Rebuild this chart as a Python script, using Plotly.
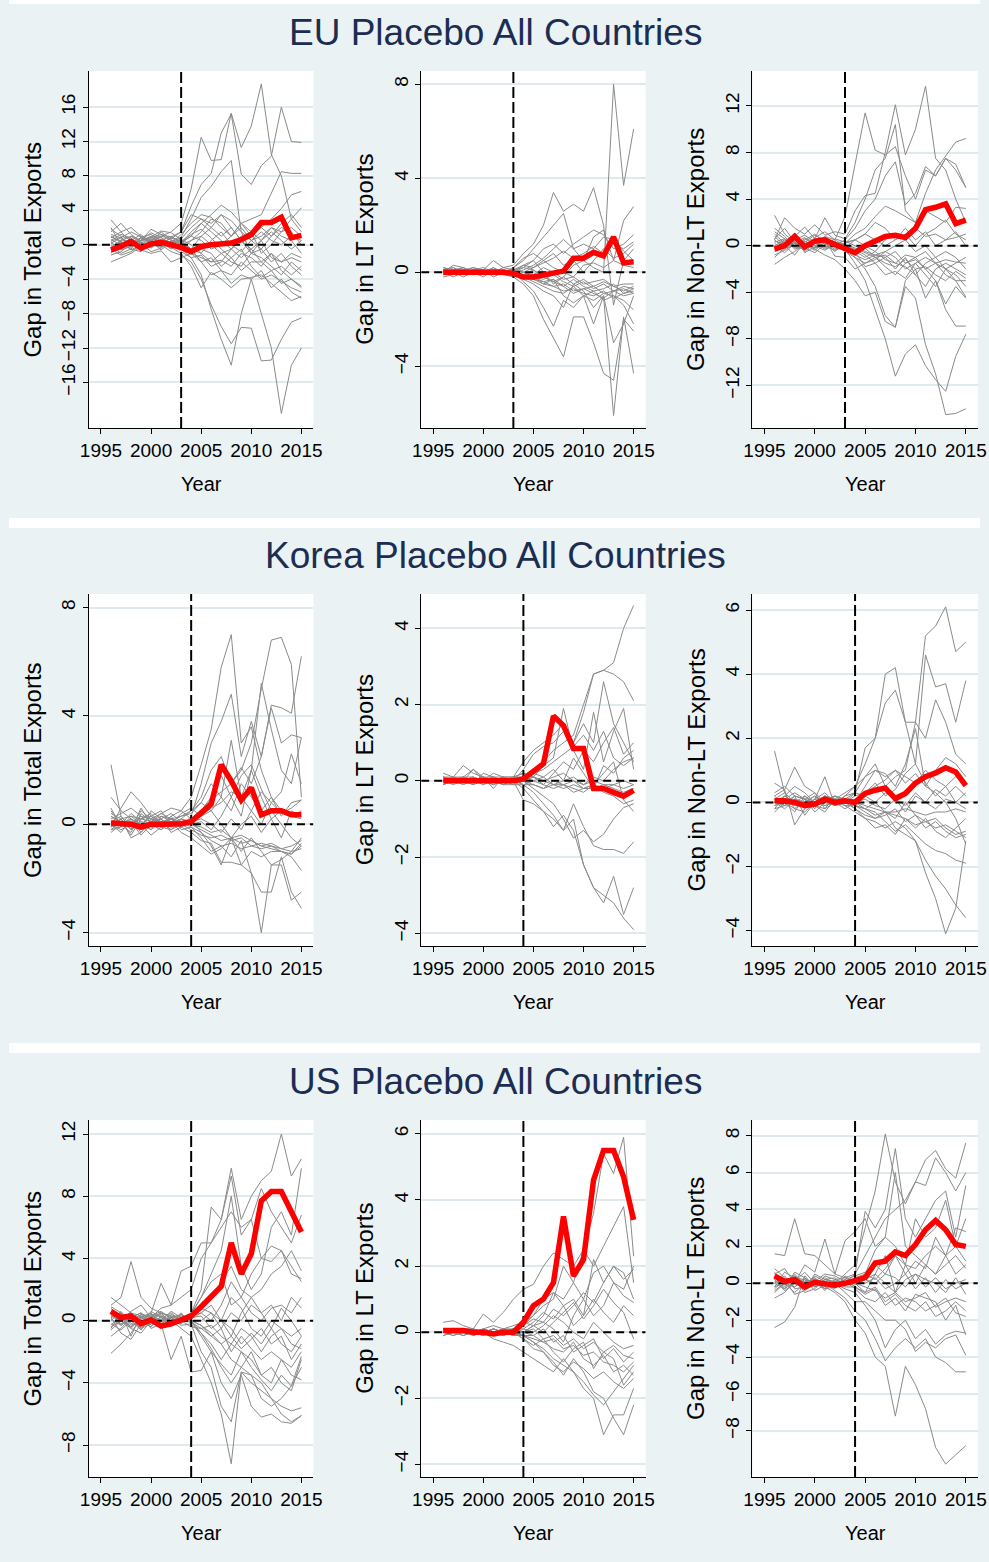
import plotly.graph_objects as go

# ---------------- data ----------------
years = list(range(1996, 2016))
x_tick_years = [1995, 2000, 2005, 2010, 2015]

panel_titles = ["EU Placebo All Countries", "Korea Placebo All Countries", "US Placebo All Countries"]
panel_treat_years = [2003, 2004, 2004]
y_titles = ["Gap in Total Exports", "Gap in LT Exports", "Gap in Non-LT Exports"]
x_title = "Year"

# ---- EU ----
eu_total_treated = [-0.6, -0.2, 0.4, -0.4, 0.1, 0.3, 0.0, -0.3, -0.8, -0.2, 0.0, 0.1, 0.2, 0.6, 1.2, 2.6, 2.6, 3.2, 0.8, 1.1]
eu_total_placebos = [
    [0.5, 1.2, 0.8, -0.3, 0.6, 1.0, 1.5, 2.5, 6.5, 12.5, 9.8, 9.9, 15.3, 11.3, 13.8, 18.7, 10.5, 8.0, 3.0, 1.5],
    [0.2, -0.5, 1.0, 0.5, 1.8, 1.2, 0.9, 1.5, 4.5, 7.0, 8.3, 13.0, 15.2, 8.2, 7.0, 9.2, 10.3, 16.0, 12.0, 11.9],
    [1.0, 0.3, -0.2, 0.8, 0.4, -0.6, 0.3, 0.9, 3.0, 5.5, 6.8, 8.5, 9.8, 1.5, -1.0, 0.5, 2.0, 1.0, 0.5, -1.0],
    [-0.5, 0.2, 0.6, 0.3, -0.4, 0.5, 0.2, 1.2, 2.5, 3.5, 3.2, 2.0, 1.0, 2.5, 3.0, 3.5, 6.0, 8.5, 8.3, 8.3],
    [0.8, 1.5, 2.0, 1.0, 0.5, 0.2, 0.8, 0.3, 1.0, 2.5, 3.5, 4.6, 3.8, 2.5, 1.5, 2.0, 3.0, 4.2, 5.8, 6.2],
    [2.9, 1.5, 0.3, -0.5, 0.4, 1.5, 0.6, 0.0, -0.5, 1.0, 2.0, 3.5, 2.8, 1.5, 0.5, 1.0, 2.0, 1.5, 3.0, 4.3],
    [-2.0, -1.5, -1.0, -0.2, 0.3, 0.0, -0.8, -1.2, -2.0, -4.0, -7.0, -9.5, -11.5, -9.6, -9.7, -13.5, -13.4, -11.0, -9.0, -8.5],
    [0.3, -0.6, -0.2, 0.2, -0.8, -0.4, 0.5, -0.5, -1.5, -3.5, -7.5, -11.0, -14.0, -8.0, -4.0, -8.0, -12.0, -19.6, -14.0, -12.0],
    [1.2, 0.8, 0.2, 0.5, 1.0, 0.6, -0.3, -1.0, -2.5, -5.0, -3.2, -4.0, -5.0, -4.0, -3.8, -3.5, -4.5, -5.5, -6.5, -6.0],
    [-0.8, -0.3, 0.4, -0.6, -1.0, -0.7, -2.0, -1.5, -1.0, -2.0, -1.5, -3.0, -3.5, -2.0, -3.0, -4.0, -3.5, -4.2, -5.0, -5.5],
    [0.6, 0.0, -0.5, 0.9, 1.2, 0.4, 0.1, 0.5, -0.5, -1.0, -2.0, -1.8, -2.5, -1.0, -1.5, -2.5, -1.0, -3.0, -4.0, -4.8],
    [-0.3, 0.5, 1.0, 0.2, -0.2, 0.3, -0.5, 0.2, 1.5, 2.5, 1.5, 0.5, -0.5, -1.5, -0.5, 0.5, -1.5, -2.0, -1.0, -1.5],
    [1.5, 2.5, 1.2, 0.4, 0.9, 1.6, 1.4, 0.6, 0.0, -1.0, 0.5, 1.5, 0.0, -0.8, 0.5, -0.5, -2.0, -1.0, -2.5, -3.5],
    [0.0, -1.0, -0.5, -0.8, 0.2, -0.2, 0.4, -0.8, -1.5, -1.2, -2.5, -2.0, -0.5, 1.0, 1.5, -1.0, 0.0, 1.5, 2.0, 1.0],
    [-1.0, 0.6, 0.3, 0.8, 0.1, 1.0, 0.7, 1.5, 3.5, 3.0, 2.0, 1.0, 2.0, 0.5, -0.5, -2.0, -3.0, -2.5, -3.5, -2.5],
    [0.4, 0.9, -0.6, 0.0, 0.7, 0.4, 0.3, -0.2, -1.0, -0.5, -1.0, -2.5, -1.5, -3.0, -2.0, -2.0, -1.0, -2.0, -1.5, -2.0],
    [2.0, 0.0, 0.5, 1.2, 0.0, -0.3, 0.9, 0.4, 1.2, 1.8, 0.8, -0.5, -1.5, -0.5, -2.5, -3.8, -3.0, -4.5, -4.0, -5.0],
    [-1.2, -0.8, 0.1, -0.2, 0.5, 0.9, -0.2, -0.6, 0.5, 1.5, 3.0, 2.5, 1.0, 2.0, 0.5, 1.5, 0.5, 0.0, 1.0, 0.5],
    [0.9, 0.4, -0.3, 0.6, 1.4, 0.8, 0.2, 0.7, 2.0, 3.0, 2.5, 3.5, 2.0, 0.5, -1.0, -0.5, 1.0, 2.0, 1.5, 0.0],
    [-0.5, -1.2, -0.8, 0.0, -0.3, 0.5, 1.0, 0.3, -0.5, -2.0, -3.5, -3.0, -4.5, -3.5, -4.0, -3.0, -5.0, -4.0, -5.5, -6.2],
    [1.8, 1.0, 0.6, 0.2, 0.8, 1.2, 0.5, 0.2, 1.0, 0.5, -0.5, 0.0, 1.0, 2.5, 1.0, 2.0, 1.0, 2.5, 3.5, 2.0],
    [0.2, 0.8, 1.5, 0.9, 0.3, -0.2, 0.0, -0.3, -1.0, -1.5, -2.0, -1.0, -2.0, -2.5, -1.0, -1.5, -2.5, -3.5, -2.0, -3.0],
    [-0.6, 0.3, 0.0, 0.5, 0.9, 0.2, -0.4, 0.0, 0.5, 1.0, 0.0, -1.0, -0.5, 0.5, 1.5, 0.5, 1.5, 0.5, -0.5, 0.5],
]

eu_lt_treated = [0.0, 0.0, 0.05, 0.0, 0.0, 0.0, 0.0, -0.05, -0.2, -0.2, -0.1, 0.0, 0.05, 0.6, 0.6, 0.85, 0.7, 1.5, 0.4, 0.45]
eu_lt_placebos = [
    [0.1, 0.2, 0.0, -0.1, 0.1, -0.1, 0.0, 0.1, 0.2, 0.5, 0.0, -0.5, -0.2, 0.3, 0.5, 0.2, 0.0, 8.0, 3.7, 6.1],
    [-0.1, 0.0, 0.1, 0.0, -0.2, 0.1, 0.1, 0.0, -0.3, -0.5, -0.8, -1.0, -1.5, -0.5, -0.8, -1.5, -1.0, -6.1, -1.9, -4.3],
    [0.0, 0.3, 0.2, 0.0, 0.1, 0.5, 0.2, 0.3, 0.8, 1.2, 2.0, 3.4, 2.6, 2.9, 2.6, 3.6, 2.0, -1.4, 0.5, 1.0],
    [0.2, 0.1, -0.1, 0.1, 0.0, 0.2, -0.1, -0.2, -0.5, -1.0, -2.0, -2.8, -3.6, -1.9, -1.9, -3.0, -4.3, -4.6, -2.0, -2.5],
    [-0.2, -0.1, 0.0, 0.1, 0.2, 0.0, 0.1, 0.0, -0.4, -0.8, -1.5, -2.3, -1.2, -1.5, -1.0, -2.2, -1.0, -3.0, -2.2, -1.0],
    [0.1, 0.0, 0.2, -0.1, 0.0, 0.1, 0.0, 0.2, 0.5, 1.0, 1.5, 2.0, 2.5, 1.0, 0.5, 1.5, 1.8, 0.5, 2.2, 2.8],
    [0.0, -0.1, 0.1, 0.2, 0.1, -0.2, 0.0, 0.1, 0.3, 0.5, 1.0, 1.2, 0.8, 1.2, 1.5, 1.8, 1.6, 1.0, 1.2, 1.6],
    [0.1, 0.2, 0.0, 0.0, -0.1, 0.0, 0.2, 0.1, 0.0, -0.2, -0.5, -0.3, -1.0, -1.3, -1.0, -0.8, -1.2, -1.0, -1.2, -1.6],
    [-0.1, 0.1, 0.0, 0.2, 0.0, 0.1, -0.1, 0.0, 0.3, 0.2, 0.5, 0.8, 0.3, 0.5, 0.0, 0.5, 1.0, 0.6, 0.8, 1.2],
    [0.0, 0.0, -0.1, 0.0, 0.1, 0.0, 0.1, -0.1, -0.2, -0.3, -0.4, -0.6, -0.5, -0.8, -0.7, -0.6, -0.9, -0.8, -0.7, -0.9],
    [0.1, -0.1, 0.0, 0.1, -0.1, 0.2, 0.0, 0.1, 0.0, -0.1, 0.2, 0.0, -0.3, -0.2, -0.5, -0.4, -0.3, -0.6, -0.5, -0.5],
    [-0.1, 0.0, 0.1, -0.1, 0.0, -0.1, 0.1, 0.0, -0.1, 0.1, -0.2, -0.4, -0.6, -0.3, -0.6, -0.8, -0.7, -0.5, -0.9, -0.8],
    [0.0, 0.1, 0.0, 0.0, 0.1, 0.0, -0.1, 0.2, 0.6, 0.8, 0.5, 0.2, 0.0, -0.2, 0.3, 0.4, 0.2, 0.5, 0.3, 0.2],
    [0.2, 0.0, -0.2, 0.0, 0.1, 0.0, 0.0, 0.0, -0.2, -0.4, -0.6, -0.8, -0.9, -0.6, -1.0, -1.2, -0.9, -1.0, -1.4, -2.2],
    [-0.1, 0.1, 0.2, 0.0, 0.0, 0.1, -0.1, 0.0, 0.1, 0.3, 0.6, 1.0, 1.4, 1.0, 1.2, 1.0, 1.5, 1.4, 0.9, 0.5],
    [0.0, -0.2, 0.0, 0.1, 0.0, -0.1, 0.0, -0.1, -0.1, -0.2, -0.3, -0.1, -0.4, -0.6, -0.4, -0.7, -0.5, -0.8, -0.6, -0.7],
    [0.0, 0.1, 0.1, 0.0, 0.0, 0.1, 0.0, 0.1, -0.1, -0.3, -0.5, -0.6, -0.8, -0.7, -0.9, -1.0, -0.8, -1.1, -0.9, -0.7],
    [0.1, 0.0, 0.0, 0.1, 0.1, 0.0, 0.1, 0.0, 0.2, 0.1, -0.2, -0.4, -0.2, -0.5, -0.3, -0.6, -0.4, -0.6, -0.8, -0.6],
    [-0.1, 0.0, 0.0, 0.1, -0.1, 0.0, 0.0, 0.1, 0.0, 0.2, 0.4, 0.6, 0.9, 0.6, 0.8, 1.1, 0.8, 1.2, 1.0, 1.3],
    [0.0, 0.1, -0.1, 0.0, 0.0, 0.1, 0.0, 0.0, -0.2, -0.2, -0.4, -0.3, -0.6, -0.9, -0.7, -0.9, -1.1, -0.8, -1.0, -0.9],
]

eu_nonlt_treated = [-0.3, 0.0, 0.8, -0.1, 0.4, 0.5, 0.1, -0.3, -0.6, 0.0, 0.4, 0.8, 0.9, 0.7, 1.5, 3.1, 3.3, 3.6, 1.9, 2.2]
eu_nonlt_placebos = [
    [2.6, 1.0, 0.3, -0.5, 0.2, 0.8, 0.5, 2.5, 7.0, 11.4, 8.2, 7.8, 8.5, 6.0, 4.0, 6.5, 6.0, 7.5, 6.5, 5.0],
    [0.5, 2.4, 1.5, 1.0, 1.8, 0.9, 1.2, 1.0, 3.0, 4.3, 4.5, 8.0, 12.1, 7.8, 10.0, 13.7, 7.5, 6.5, 4.0, 2.0],
    [-0.5, 0.0, 0.8, 1.6, 0.6, 2.4, 0.9, 0.6, 2.0, 4.0, 6.5, 7.5, 10.4, 3.0, 2.0, 4.5, 6.5, 7.7, 8.9, 9.2],
    [0.2, -0.3, 0.5, 0.1, -0.4, 0.3, 0.0, 0.5, 1.5, 3.0, 4.0, 6.0, 7.2, 3.5, 4.5, 6.8, 6.0, 7.5, 7.0, 5.0],
    [1.5, 0.8, -0.2, 0.5, 1.0, 0.2, -0.5, 0.2, 1.0, 1.5, 2.5, 3.4, 3.0, 2.5, 2.0, 3.0, 2.5, 2.0, 3.3, 3.2],
    [-1.6, -1.0, -0.5, 0.2, -0.3, -0.8, -1.2, -2.0, -3.0, -4.3, -4.0, -6.5, -7.0, -3.0, -2.0, -4.5, -3.0, -5.0, -3.5, -4.5],
    [0.8, 0.0, -0.8, 0.3, 0.9, 0.5, -0.2, -0.3, -1.5, -3.0, -5.5, -8.0, -11.2, -9.3, -8.5, -10.3, -11.5, -12.5, -9.5, -7.6],
    [-0.8, -0.4, 0.2, -0.2, -0.6, 0.1, 0.4, -0.5, -1.0, -2.0, -3.5, -6.0, -7.0, -3.5, -4.5, -8.5, -11.0, -14.5, -14.4, -14.0],
    [0.3, 0.6, -0.3, 0.0, 0.4, -0.2, 0.2, 0.1, -0.5, -1.0, -0.5, -1.2, -1.5, -0.8, -1.0, -2.0, -3.0, -5.5, -6.9, -6.9],
    [-0.2, 0.4, 1.0, -0.6, -0.1, 0.5, -0.9, -1.0, -2.0, -1.5, -1.0, -1.8, -2.5, -1.5, -1.2, -2.0, -1.5, -2.5, -3.0, -4.4],
    [1.0, 0.2, 0.5, 0.9, 0.3, 0.0, 0.6, 0.3, 0.5, 0.0, -0.5, 0.5, 1.0, 0.5, 1.5, 0.8, 1.0, 0.5, 0.7, 1.0],
    [0.0, -0.6, 0.2, 0.4, 0.0, -0.4, 0.2, -0.2, -1.0, -1.5, -1.2, -0.5, -1.0, -2.0, -1.5, -1.0, -1.5, -1.2, -1.4, -1.5],
    [-0.4, 0.3, -0.1, -0.3, 0.5, 0.2, -0.3, 0.0, -0.3, -0.8, -1.5, -2.5, -2.2, -2.8, -1.5, -2.5, -3.5, -2.0, -2.5, -3.5],
    [0.4, 0.1, 0.6, 0.2, -0.2, 0.3, 0.1, 0.2, 0.5, 1.0, 2.0, 1.5, 0.5, 1.0, 0.0, 1.0, 1.5, 2.2, 1.0, 0.5],
    [-1.0, -0.2, 0.0, 0.6, 0.2, -0.1, 0.0, -0.4, -0.8, -1.2, -0.8, -0.5, 0.0, 0.5, -0.5, 0.0, -1.0, -0.5, -1.0, -2.0],
    [0.6, 1.5, 0.3, -0.4, 0.7, 1.2, 0.5, 0.0, -0.5, -1.8, -1.5, -1.0, -2.0, -1.0, -2.5, -3.5, -2.0, -1.5, -2.0, -2.5],
    [0.5, -0.2, 0.3, 0.7, 0.0, 0.4, 0.2, 0.4, 0.0, -0.5, -0.8, -1.0, -0.5, -1.5, -1.0, -0.5, -1.5, -2.0, -1.5, -1.0],
    [-0.3, 0.2, 0.6, 0.0, 0.3, -0.3, 0.0, 0.1, -0.2, -0.6, -1.0, -1.5, -1.8, -1.2, -2.0, -1.8, -2.5, -3.0, -2.2, -2.8],
    [0.0, 0.5, 0.2, -0.2, 0.5, 0.6, 0.3, -0.2, 0.5, 1.0, 0.5, 0.0, 0.5, 1.5, 0.5, 1.2, 0.0, 0.5, 1.2, 0.0],
    [1.2, 0.6, 0.0, 0.4, -0.2, 0.0, -0.4, 0.0, -0.5, -0.2, -1.0, -0.8, -1.5, -1.8, -2.5, -1.5, -1.0, -2.0, -3.0, -3.0],
]

# ---- Korea ----
korea_total_treated = [0.05, 0.05, 0.0, -0.1, 0.0, 0.0, 0.0, 0.02, 0.1, 0.45, 0.75, 2.2, 1.6, 0.9, 1.35, 0.35, 0.5, 0.5, 0.35, 0.35]
korea_total_placebos = [
    [0.6, -0.1, 0.3, 0.2, 0.4, 0.0, 0.3, 0.5, 1.0, 2.2, 3.5, 5.8, 7.0, 3.0, 3.6, 2.0, 1.0, 0.5, 0.3, 0.5],
    [-0.2, 0.1, -0.4, 0.2, 0.3, 0.5, 0.0, 0.2, 0.5, 1.0, 2.0, 2.5, 1.5, 2.0, 3.0, 5.0, 6.8, 6.9, 5.9, 1.0],
    [1.0, 0.5, 0.2, -0.3, 0.1, 0.4, 0.2, -0.1, 0.3, 1.5, 3.0, 3.8, 4.8, 2.5, 3.8, 2.5, 4.4, 4.3, 4.1, 6.2],
    [2.2, 0.3, -0.2, 0.6, 0.0, -0.2, 0.1, 0.3, 0.4, 0.8, 1.5, 1.0, 3.1, 1.0, 2.0, 5.2, 3.5, 2.0, 1.5, 3.2],
    [-0.1, 0.6, 1.2, 0.8, 0.3, 0.1, -0.2, 0.0, 0.2, 0.5, 0.9, 1.2, 1.5, 2.1, 1.5, 2.5, 4.3, 3.0, 3.3, 3.2],
    [0.4, 0.2, -0.5, -0.3, 0.2, 0.4, 0.6, 0.5, 0.2, -0.3, -0.8, -1.5, -0.5, -1.5, -1.8, -4.0, -1.5, -1.5, -2.8, -2.5],
    [0.0, -0.3, 0.2, 0.0, -0.4, -0.1, 0.3, -0.2, -0.1, -0.5, -1.0, -0.8, -1.2, -0.6, -1.8, -2.5, -2.5, -1.2, -2.5, -3.1],
    [0.3, 0.1, 0.0, -0.2, 0.5, 0.2, -0.1, 0.1, 0.0, -0.2, -0.4, -0.6, -0.5, -0.7, -0.6, -0.8, -0.9, -1.0, -1.1, -0.7],
    [-0.3, 0.0, 0.4, 0.1, -0.2, 0.3, 0.2, 0.0, -0.2, -0.4, -0.5, -0.4, -0.6, -0.5, -0.8, -0.7, -0.8, -0.9, -0.8, -0.6],
    [0.1, 0.3, -0.1, 0.5, 0.2, -0.1, 0.0, 0.4, 0.6, 0.3, 0.5, 1.0, 0.5, 1.5, 1.0, 0.5, 1.0, 0.3, 0.8, 0.9],
    [-0.2, -0.1, 0.1, -0.4, 0.0, 0.2, -0.3, -0.1, -0.3, -0.6, -0.7, -1.4, -1.4, -1.5, -1.0, -1.2, -1.0, -1.0, -1.2, -1.7],
    [0.2, 0.4, 0.6, 0.3, -0.1, 0.0, 0.2, 0.3, 0.5, 0.8, 0.5, 0.0, -0.5, 0.0, 0.3, -0.3, 0.2, 0.5, 0.3, 0.2],
    [0.0, -0.2, 0.0, 0.2, 0.1, 0.3, 0.1, -0.3, -0.5, -0.8, -1.1, -0.9, -0.5, -1.0, -0.5, -1.0, -1.5, -1.3, -1.0, -0.5],
    [-0.1, 0.2, 0.3, 0.0, 0.3, -0.1, -0.2, 0.2, 0.1, 0.2, 0.0, -0.3, 0.2, -0.2, 0.5, 0.0, 0.8, 1.2, 2.6, 1.5],
    [0.5, 0.0, -0.3, 0.4, 0.1, 0.2, 0.4, 0.1, 0.0, 0.1, -0.2, 0.3, 1.0, 1.8, 2.2, 1.3, 0.5, 0.0, -0.5, -0.8],
    [0.1, 0.0, 0.2, -0.1, 0.1, 0.0, -0.1, 0.2, 0.0, -0.1, -0.3, -0.2, -0.5, -0.4, -0.6, -0.8, -0.7, -0.9, -1.0, -0.9],
    [-0.1, 0.1, 0.0, 0.3, 0.2, 0.1, 0.0, -0.1, 0.1, 0.3, 0.6, 0.8, 1.2, 1.0, 0.5, 1.2, 0.8, 0.4, 0.6, 0.9],
    [0.3, 0.0, 0.1, 0.0, -0.2, 0.1, 0.2, 0.1, -0.1, -0.3, -0.6, -0.8, -0.7, -0.9, -0.8, -0.9, -0.8, -1.0, -1.1, -0.8],
    [0.0, 0.2, -0.2, 0.1, 0.0, -0.2, 0.1, 0.0, 0.2, 0.5, 1.0, 1.8, 1.0, 0.3, 2.0, 1.0, 0.2, -0.5, 0.5, 0.3],
]

korea_lt_treated = [0.0, 0.0, 0.0, 0.0, -0.02, 0.0, 0.0, 0.0, 0.05, 0.25, 0.45, 1.7, 1.45, 0.85, 0.85, -0.2, -0.2, -0.3, -0.4, -0.25]
korea_lt_placebos = [
    [0.1, 0.05, 0.1, 0.0, -0.1, 0.1, 0.0, 0.0, 0.1, 0.3, 0.5, 0.8, 1.0, 1.2, 2.0, 2.8, 2.9, 3.1, 4.0, 4.6],
    [0.0, -0.05, 0.0, 0.1, 0.0, -0.1, 0.0, 0.0, -0.2, -0.5, -0.8, -1.0, -1.3, -1.0, -2.2, -2.8, -3.0, -3.2, -3.6, -3.9],
    [-0.1, 0.0, 0.1, 0.3, 0.1, 0.0, 0.1, 0.0, -0.5, -0.6, -0.8, -1.2, -0.9, -1.3, -2.2, -2.8, -3.2, -2.5, -3.5, -2.8],
    [0.2, 0.1, 0.4, 0.2, 0.1, 0.0, -0.1, -0.1, -0.1, -0.3, -0.6, -0.9, -1.3, -0.6, -1.2, -1.7, -1.8, -1.8, -1.9, -1.6],
    [0.0, 0.1, 0.0, 0.3, 0.0, 0.2, 0.1, 0.0, 0.3, 0.7, 0.9, 1.0, 1.3, 1.0, 1.8, 2.8, 2.9, 2.8, 2.6, 2.1],
    [0.1, 0.0, -0.1, 0.0, 0.1, -0.2, 0.1, 0.1, 0.5, 0.8, 1.0, 1.2, 1.5, 1.0, 1.5, 1.0, 2.6, 1.5, 1.0, 0.5],
    [-0.1, 0.1, 0.0, -0.1, 0.2, 0.1, 0.0, 0.1, 0.2, 0.1, 0.4, 0.6, 1.9, 0.8, 0.3, 1.8, 0.5, 1.3, 1.9, 0.3],
    [0.0, 0.0, 0.1, 0.1, -0.1, 0.0, -0.1, 0.0, 0.0, 0.1, -0.1, 0.2, 0.5, 0.3, 0.8, 0.5, 1.0, 1.4, 0.7, 1.0],
    [0.1, 0.1, 0.0, 0.0, 0.0, 0.1, 0.0, -0.1, 0.0, -0.1, -0.2, 0.0, -0.1, -0.2, -0.3, -0.1, 0.2, 0.5, -0.5, -0.8],
    [0.0, -0.1, 0.0, 0.0, 0.1, 0.0, 0.1, 0.1, 0.1, 0.0, 0.1, -0.1, 0.0, 0.1, -0.1, 0.0, -0.1, -0.1, 0.0, -0.1],
    [0.0, 0.0, 0.0, -0.1, 0.0, 0.1, 0.0, 0.0, -0.1, -0.1, -0.2, -0.1, -0.2, -0.1, -0.2, -0.2, -0.1, -0.2, -0.3, -0.2],
    [0.1, 0.0, 0.0, 0.1, 0.0, 0.0, -0.1, 0.1, 0.2, 0.1, 0.0, 0.1, 0.2, 0.0, -0.1, 0.1, 0.0, 0.3, 0.5, 0.6],
    [0.0, 0.1, 0.1, 0.0, 0.0, 0.1, 0.1, 0.0, 0.0, -0.2, -0.4, -0.6, -1.0, -1.5, -1.3, -1.6, -1.4, -1.0, -0.7, -0.6],
    [-0.1, 0.0, 0.1, 0.0, 0.0, -0.1, 0.0, 0.1, 0.0, 0.2, 0.1, 0.3, 0.0, 0.6, 0.2, -0.2, 0.4, 0.2, 0.6, 0.8],
    [0.0, 0.0, 0.1, 0.0, 0.0, 0.0, 0.1, 0.0, 0.0, 0.1, 0.0, -0.1, -0.1, 0.0, -0.2, -0.1, -0.2, -0.1, -0.2, -0.1],
    [0.1, 0.0, 0.0, 0.0, 0.1, 0.1, 0.0, 0.0, 0.1, 0.2, 0.3, 0.5, 0.7, 0.9, 1.2, 0.8, 1.3, 0.6, 0.4, 0.6],
    [0.0, 0.1, 0.0, 0.1, 0.0, 0.0, 0.0, 0.1, -0.1, 0.0, -0.1, -0.2, -0.1, -0.3, -0.2, -0.1, -0.3, -0.4, -0.6, -0.5],
]

korea_nonlt_treated = [0.05, 0.05, 0.0, -0.1, -0.05, 0.1, 0.0, 0.05, 0.0, 0.28, 0.38, 0.45, 0.12, 0.28, 0.6, 0.8, 0.92, 1.08, 0.95, 0.52]
korea_nonlt_placebos = [
    [1.6, 0.3, -0.2, -0.3, 0.0, 0.2, 0.1, 0.3, 0.5, 1.2, 2.0, 3.1, 3.5, 2.5, 2.5, 5.2, 5.5, 6.1, 4.7, 5.0],
    [0.6, 0.4, 1.1, 0.5, 0.3, -0.2, 0.2, 0.0, 0.3, 1.7, 2.0, 4.0, 4.2, 2.5, 1.2, 4.6, 3.6, 3.7, 2.5, 3.8],
    [0.2, 0.4, -0.7, -0.2, 0.1, 0.8, -0.1, 0.2, 0.5, 0.8, 1.2, 0.5, 0.8, 1.0, 2.5, 2.0, 3.2, 2.5, 1.5, 1.2],
    [-0.1, 0.0, 0.2, 0.1, -0.3, 0.0, 0.2, 0.1, 0.3, 0.8, 1.0, 0.9, 0.5, 1.2, 2.3, 0.5, 0.3, 0.0, -0.5, -1.3],
    [0.0, -0.2, 0.1, 0.0, 0.2, -0.1, 0.0, -0.1, -0.3, -0.5, -0.6, -0.8, -0.6, -0.8, -1.2, -1.8, -2.3, -2.7, -3.2, -3.6],
    [0.1, 0.0, -0.3, 0.2, 0.0, 0.1, -0.1, 0.0, -0.2, -0.4, -0.5, -0.3, -0.8, -1.0, -1.2, -2.2, -3.0, -4.1, -3.3, -1.2],
    [-0.2, 0.2, 0.0, -0.1, 0.1, 0.3, 0.0, 0.1, 0.0, -0.2, -0.3, -0.6, -0.9, -0.7, -1.0, -1.3, -1.5, -1.6, -1.8, -1.9],
    [0.3, 0.5, 0.2, -0.4, 0.0, 0.2, 0.0, -0.2, 0.0, 0.5, 1.0, 0.8, 1.0, 0.6, 0.9, 0.5, 1.0, 1.4, 1.2, 0.8],
    [-0.2, -0.1, 0.0, 0.2, -0.1, -0.3, 0.1, 0.0, -0.1, -0.3, -0.5, -0.4, -0.2, -0.6, -0.4, -0.8, -0.6, -0.9, -1.1, -1.0],
    [0.0, 0.2, 0.5, 0.3, 0.0, 0.1, 0.2, 0.0, 0.2, 0.3, 0.6, 0.2, 0.4, 0.9, 1.2, 0.6, 0.2, 0.5, 0.0, 0.3],
    [0.2, -0.1, 0.1, 0.0, 0.2, 0.0, -0.1, 0.1, 0.0, -0.1, -0.2, -0.3, -0.3, -0.2, -0.3, -0.4, -0.3, -0.3, -0.2, -0.3],
    [-0.3, 0.0, -0.2, 0.1, 0.0, 0.2, 0.1, 0.1, -0.2, -0.5, -0.8, -0.7, -1.0, -0.5, -0.8, -0.5, -0.9, -1.1, -0.8, -0.5],
    [0.1, 0.3, 0.0, 0.0, -0.1, -0.2, 0.0, 0.2, 0.3, 0.2, 0.0, 0.3, 0.1, -0.3, 0.2, 0.0, 0.4, 0.2, 0.5, 0.2],
    [0.0, -0.1, 0.2, 0.1, 0.3, 0.0, 0.1, -0.1, -0.1, -0.2, 0.0, -0.3, -0.5, 0.0, -0.4, -0.6, -0.5, -0.8, -1.0, -0.9],
    [0.0, 0.1, 0.0, -0.1, 0.1, 0.0, 0.1, 0.0, 0.1, 0.3, 0.5, 0.7, 1.0, 0.8, 0.6, 1.0, 0.7, 0.5, 0.8, 0.6],
    [0.1, 0.0, -0.1, 0.0, 0.0, -0.1, 0.0, 0.0, -0.1, -0.2, -0.4, -0.3, -0.4, -0.5, -0.7, -0.6, -0.8, -0.7, -0.9, -1.1],
    [-0.1, 0.1, 0.3, 0.1, -0.2, 0.2, -0.1, 0.0, 0.0, 0.1, -0.1, -0.2, 0.1, -0.1, 0.3, 0.0, -0.2, 0.1, 0.0, -0.2],
]

# ---- US ----
us_total_treated = [0.6, 0.2, 0.3, -0.2, 0.05, -0.35, -0.2, 0.05, 0.3, 0.9, 1.6, 2.2, 5.0, 3.0, 4.3, 7.7, 8.3, 8.3, 7.0, 5.7]
us_total_placebos = [
    [1.5, 1.0, 0.5, -0.5, 0.2, 0.8, 1.0, 1.5, 2.0, 4.0, 5.0, 6.5, 9.8, 6.5, 8.0, 9.0, 9.6, 12.0, 9.3, 10.4],
    [0.3, 0.0, -0.5, 0.2, 0.5, -0.3, 0.0, -0.5, -1.0, -2.5, -4.0, -6.0, -9.2, -3.3, -3.5, -4.0, -5.0, -6.0, -6.5, -6.1],
    [1.0, 1.5, 3.8, 1.5, 0.8, 0.5, 0.3, 0.0, 0.5, 2.0, 7.3, 6.5, 9.3, 5.5, 6.5, 8.5, 7.0, 6.0, 5.0, 6.8],
    [-2.1, -1.5, -0.8, 0.2, 0.5, 2.4, 1.0, 3.2, 3.5, 5.0, 5.0, 6.0, 7.0, 6.0, 6.5, 4.0, 4.8, 4.5, 3.5, 2.5],
    [0.5, -0.3, 0.2, 0.0, -0.4, 0.3, 0.0, 0.2, 0.5, 1.5, 3.0, 4.5, 8.0, 3.5, 2.0, 3.0, 6.0, 7.0, 5.5, 9.8],
    [-0.5, 0.5, -1.0, 0.4, 0.3, -0.2, -2.5, -1.0, -3.3, -3.2, -2.0, -4.0, -5.0, -3.5, -5.5, -6.2, -6.0, -6.5, -6.6, -6.1],
    [0.8, 0.2, -0.5, -0.8, 0.0, 0.5, 0.2, -0.3, -0.2, -2.0, -3.0, -5.5, -6.5, -3.3, -4.0, -4.5, -5.0, -5.5, -5.8, -5.6],
    [-0.6, 0.0, 0.6, 1.0, 0.2, -0.1, 0.4, 0.1, 0.2, 0.8, 1.5, 2.5, 3.5, 2.0, 1.5, 0.5, -0.5, -1.5, -2.0, -1.0],
    [0.2, -0.8, -1.2, -0.2, 0.6, 0.2, -0.3, 0.5, -0.2, -0.8, -1.5, -2.5, -1.5, -2.0, -3.0, -3.8, -4.5, -3.5, -4.2, -3.0],
    [-0.3, 0.4, 0.0, -0.5, -0.2, 0.1, 0.5, 0.0, -0.4, -0.5, -1.0, -0.5, -2.0, -1.0, -1.8, -2.5, -2.0, -2.5, -3.0, -2.0],
    [0.4, -0.2, 0.3, 0.2, 0.0, -0.4, 0.2, 0.3, 0.1, 0.5, 0.0, 1.0, 2.5, 1.5, 0.5, 0.0, 0.8, 1.0, 0.5, 1.5],
    [-1.0, -0.5, 0.2, 0.5, -0.3, 0.0, -0.1, 0.4, 0.0, -0.3, -0.8, -1.5, -1.0, -1.8, -1.2, -0.5, -1.5, -1.0, -2.5, -1.5],
    [0.0, 0.6, -0.2, -0.3, 0.4, 0.3, 0.0, -0.2, 0.3, 0.8, 0.5, 0.0, -1.0, 0.5, 1.5, 2.0, 3.0, 3.5, 4.5, 3.2],
    [0.6, 0.1, 0.5, 0.3, -0.5, -0.2, 0.3, 0.0, -0.1, -0.5, -0.3, -1.0, -1.5, -0.5, -1.0, -2.0, -1.0, -0.5, -1.0, -0.5],
    [-0.2, -0.6, 0.0, 0.4, 0.2, 0.5, -0.2, 0.1, 0.0, 0.0, 0.5, -0.5, 0.5, 0.0, 1.0, 0.5, 1.0, 0.0, 1.5, 0.8],
    [0.3, 0.3, -0.3, 0.0, 0.0, 0.0, 0.6, 0.2, 0.4, 1.5, 2.5, 3.0, 1.0, 1.5, 3.0, 4.0, 3.8, 4.5, 3.0, 2.7],
    [0.9, 0.5, 0.0, -0.6, 0.3, 0.6, 0.1, -0.1, 0.0, -1.0, -2.0, -2.8, -3.5, -2.0, -2.5, -3.5, -3.0, -4.0, -4.5, -2.5],
    [0.2, 0.5, 0.0, 0.3, 0.0, -0.2, 0.2, 0.4, 0.0, -0.3, -1.0, -1.5, -2.5, -3.0, -2.0, -3.5, -4.0, -2.5, -3.5, -3.8],
    [-0.4, 0.0, 0.3, -0.2, 0.1, 0.4, -0.3, -0.1, 0.2, 0.3, -0.5, 0.0, -0.5, -1.5, -0.8, -1.5, -0.5, 0.8, 0.0, -1.0],
    [0.1, -0.3, 0.2, 0.5, 0.0, 0.2, 0.0, 0.1, 0.0, -0.8, -1.8, -3.0, -4.0, -3.0, -3.5, -5.0, -5.5, -5.0, -4.2, -2.3],
    [0.7, 0.2, -0.4, 0.1, 0.4, 0.0, 0.2, -0.1, 0.3, 0.5, 1.0, 0.0, 1.5, 0.8, -0.5, -1.0, 0.0, -0.5, -1.5, -1.8],
]

us_lt_treated = [0.05, 0.05, 0.05, 0.0, 0.0, -0.05, 0.0, 0.0, 0.3, 0.8, 1.0, 1.5, 3.5, 1.7, 2.2, 4.6, 5.5, 5.5, 4.7, 3.4]
us_lt_placebos = [
    [0.0, 0.1, 0.0, 0.0, -0.1, 0.1, 0.0, 0.1, 0.3, 0.5, 1.0, 1.2, 1.0, 1.5, 2.5, 3.6, 5.4, 4.8, 5.9, 2.3],
    [0.3, 0.35, 0.2, 0.1, 0.55, 0.3, 0.6, 1.0, 1.3, 1.45, 2.0, 2.4, 2.2, 2.0, 2.5, 2.0, 2.6, 3.2, 3.8, 1.5],
    [0.0, -0.1, 0.0, 0.1, 0.0, -0.2, -0.3, -0.4, -0.6, -0.8, -1.0, -1.2, -0.8, -1.2, -1.7, -2.0, -3.1, -2.5, -2.5, -1.7],
    [0.1, 0.0, -0.1, 0.0, 0.1, 0.0, 0.1, 0.0, -0.2, -0.5, -0.6, -0.9, -1.3, -0.8, -1.2, -1.8, -2.0, -2.6, -3.1, -2.2],
    [0.0, 0.0, 0.1, -0.1, 0.0, 0.1, 0.0, -0.1, -0.1, -0.3, -0.5, -0.8, -1.0, -1.2, -1.5, -1.9, -2.2, -1.8, -1.4, -1.0],
    [0.1, 0.0, 0.0, 0.0, 0.1, 0.2, 0.1, 0.0, 0.2, 0.5, 0.8, 1.0, 2.0, 1.5, 1.0, 1.8, 2.0, 1.5, 1.3, 2.0],
    [-0.1, 0.0, 0.1, 0.0, 0.0, 0.0, 0.1, 0.2, 0.3, 0.2, 0.5, 1.2, 0.8, 1.0, 0.5, 2.2, 1.5, 2.0, 1.8, 1.0],
    [0.0, 0.1, 0.0, 0.0, -0.1, 0.0, 0.0, 0.1, 0.0, 0.2, 0.3, 0.1, -0.3, 0.5, 1.0, 0.5, 0.8, 1.5, 1.1, 0.9],
    [0.0, 0.0, 0.1, 0.1, 0.0, -0.1, 0.0, 0.0, -0.1, -0.2, -0.3, -0.5, -0.6, -0.3, -0.8, -1.0, -0.7, -1.2, -1.0, -1.3],
    [0.1, 0.1, 0.0, -0.1, 0.0, 0.0, -0.1, 0.0, 0.0, 0.1, -0.2, -0.1, -0.4, -0.2, -0.5, -0.3, -0.6, -0.4, -0.7, -0.8],
    [0.0, -0.1, 0.0, 0.0, 0.1, 0.0, 0.1, -0.1, 0.1, 0.0, 0.2, 0.5, 0.3, 0.0, -0.2, 0.3, 0.0, -0.3, -0.5, -0.4],
    [0.0, 0.0, 0.0, 0.1, 0.0, 0.1, 0.0, 0.0, -0.2, -0.4, -0.2, -0.6, -0.9, -0.5, -0.3, -1.1, -0.6, -0.8, -1.6, -1.2],
    [0.1, 0.0, -0.1, 0.0, 0.0, 0.0, 0.0, 0.1, 0.1, 0.3, 0.6, 0.4, 0.8, 0.2, 0.5, 1.0, 0.6, 0.3, 0.8, 0.5],
    [-0.1, 0.0, 0.0, 0.0, -0.1, 0.1, 0.0, -0.1, 0.0, -0.1, 0.1, -0.3, -0.1, -0.6, -0.4, -0.2, -0.8, -0.5, -0.9, -0.6],
    [0.0, 0.1, 0.0, 0.0, 0.0, -0.1, 0.1, 0.1, 0.0, 0.2, 0.0, 0.3, 0.6, 0.9, 0.4, 0.8, 1.3, 0.9, 0.6, -0.2],
    [0.0, 0.0, 0.0, 0.1, 0.0, 0.0, 0.1, 0.0, -0.1, -0.1, -0.3, -0.2, -0.5, -0.4, -0.7, -0.6, -0.9, -1.0, -1.2, -0.9],
    [0.1, 0.1, 0.0, 0.0, 0.0, 0.1, 0.0, 0.1, 0.2, 0.4, 0.3, 0.7, 0.5, 0.8, 1.2, 0.9, 1.5, 2.0, 1.6, 1.9],
    [0.0, 0.0, 0.1, 0.0, 0.1, 0.0, -0.1, 0.0, -0.1, -0.3, -0.6, -1.0, -1.2, -0.9, -1.1, -1.4, -1.2, -1.5, -1.7, -1.4],
]

us_nonlt_treated = [0.4, 0.1, 0.2, -0.2, 0.05, 0.0, -0.1, 0.0, 0.15, 0.3, 1.1, 1.2, 1.7, 1.5, 2.1, 2.9, 3.4, 2.9, 2.1, 2.0]
us_nonlt_placebos = [
    [0.5, 0.8, 0.0, -0.3, 0.5, 0.2, 0.0, 0.5, 1.0, 3.0, 5.0, 8.1, 5.5, 4.3, 5.5, 5.3, 6.8, 6.0, 5.0, 6.0],
    [1.6, 1.5, 3.5, 1.6, 1.5, 1.0, 0.5, 0.3, 0.5, 3.9, 3.0, 4.0, 7.3, 3.5, 2.5, 3.5, 4.5, 5.0, 2.5, 5.3],
    [-0.5, 0.0, -0.5, 0.0, 0.3, -0.2, -0.5, -1.0, -2.0, -2.7, -4.0, -4.5, -7.2, -4.5, -5.5, -6.8, -8.9, -9.8, -9.3, -8.8],
    [0.2, -0.3, 0.6, 0.3, -0.2, 0.4, 0.2, 0.0, 0.5, 1.5, 2.5, 3.5, 4.0, 4.5, 5.5, 6.7, 7.2, 6.2, 5.7, 7.6],
    [-2.4, -2.1, -1.3, 0.4, -0.2, 0.0, -0.4, -0.8, -1.5, -2.0, -3.0, -4.2, -3.5, -3.0, -3.5, -3.0, -4.0, -4.3, -4.8, -4.8],
    [0.8, 0.3, 0.0, 1.0, 0.6, 2.4, 0.5, 2.3, 2.8, 3.5, 2.0, 2.5, 2.0, 1.0, 3.5, 2.5, 3.0, 4.5, 2.0, 3.5],
    [-0.3, 0.2, -0.6, -0.4, 0.0, 0.3, 0.0, -0.5, -1.0, -1.0, -1.5, -2.0, -2.0, -2.5, -3.7, -3.2, -3.5, -3.0, -2.8, -3.9],
    [0.3, -0.2, 0.4, 0.0, 0.2, -0.4, 0.2, 0.3, 0.0, -0.5, 0.5, 1.5, -0.5, 1.0, 0.0, 1.0, 0.5, 1.0, 1.5, 0.8],
    [-0.8, -0.5, 0.1, 0.6, 0.0, -0.3, -0.2, 0.1, -0.3, -0.8, -1.0, -0.5, -1.2, -0.8, -1.0, -1.5, -1.2, -0.8, -1.6, -1.8],
    [0.0, 0.4, -0.3, -0.2, 0.4, 0.1, -0.1, 0.2, 0.4, 0.6, 1.0, 0.5, 1.5, 0.5, 1.2, 0.8, 2.5, 1.5, 2.0, 1.2],
    [0.5, 0.0, 0.2, -0.5, -0.3, 0.2, 0.3, -0.2, -0.2, -0.6, -0.3, -1.2, -0.8, -1.5, -0.6, -0.8, -1.0, -2.0, -1.2, -2.8],
    [-0.2, 0.6, 0.3, 0.2, -0.4, -0.1, 0.1, 0.0, 0.2, 0.0, 0.3, -0.3, 0.0, 0.5, -0.3, 0.3, -0.5, 0.2, -0.3, 0.0],
    [0.2, -0.4, 0.0, 0.1, 0.2, 0.0, -0.3, 0.4, 0.0, -0.2, -0.4, -0.8, -0.5, -1.0, -0.8, -0.5, -1.3, -1.0, -0.8, -1.0],
    [-0.4, 0.0, 0.5, -0.1, 0.1, 0.5, 0.4, 0.1, 0.0, 0.5, 1.8, 2.5, 6.0, 2.0, 1.5, 1.0, 0.5, 1.5, 3.0, 2.8],
    [0.1, 0.2, -0.2, 0.3, -0.1, 0.0, 0.0, -0.3, -0.5, -1.2, -2.0, -3.5, -2.5, -2.0, -3.0, -2.5, -3.3, -2.8, -2.6, -2.7],
    [0.6, -0.1, 0.2, 0.0, 0.3, -0.2, 0.2, 0.0, -0.1, 0.2, 0.0, 0.5, 0.3, -0.2, 0.5, 0.2, 0.0, -0.5, 0.3, -0.6],
    [0.3, 0.0, -0.2, 0.2, 0.0, 0.1, -0.2, 0.0, 0.3, 0.5, 0.2, 0.8, 1.5, 1.0, 0.8, 1.5, 2.0, 1.5, 0.5, 1.0],
    [-0.2, 0.1, 0.4, 0.0, 0.2, -0.3, 0.0, 0.2, -0.2, -0.5, -0.2, -1.0, -0.6, -1.2, -1.5, -1.0, -1.8, -1.5, -1.0, -1.5],
    [0.0, -0.3, 0.1, 0.2, -0.2, 0.2, 0.1, -0.1, 0.1, 0.2, 0.5, 0.0, -0.5, 0.2, 0.5, -0.2, 0.3, -0.3, 0.0, 0.2],
]

# y tick values per subplot
eu_total_ticks = [-16, -12, -8, -4, 0, 4, 8, 12, 16]
eu_lt_ticks = [-4, 0, 4, 8]
eu_nonlt_ticks = [-12, -8, -4, 0, 4, 8, 12]
korea_total_ticks = [-4, 0, 4, 8]
korea_lt_ticks = [-4, -2, 0, 2, 4]
korea_nonlt_ticks = [-4, -2, 0, 2, 4, 6]
us_total_ticks = [-8, -4, 0, 4, 8, 12]
us_lt_ticks = [-4, -2, 0, 2, 4, 6]
us_nonlt_ticks = [-8, -6, -4, -2, 0, 2, 4, 6, 8]

# ---------------- layout config ----------------
W, H = 989, 1562
FONT = "Arial, Liberation Sans, sans-serif"
PANEL_BG = "#EAF2F3"
GRID = "#E0EAEE"
GRAY = "#8A8A8A"
RED = "#FF0000"
TITLE_COLOR = "#1C2D52"

# the page is shown with a small left offset and slight horizontal squeeze;
# convert target screen x-positions into figure x-positions
def fx(x_screen):
    return x_screen * 1005.0 / 989.0 - 8.0

def py(px):
    return 1 - px / H

col_px = [(88, 313), (421, 646), (753, 979)]          # target plot area x (screen px)
row_px = [(71, 428), (594, 946), (1120, 1477)]        # plot area y (px from top)
panel_px = [(4, 518), (528, 1043), (1053, 1562)]      # panel background rows
title_cy = [30, 554, 1079]
x_range = [1993.8, 2016.2]

subplots = [
    (eu_total_treated, eu_total_placebos, eu_total_ticks, [-21.3, 20.2]),
    (eu_lt_treated, eu_lt_placebos, eu_lt_ticks, [-6.63, 8.57]),
    (eu_nonlt_treated, eu_nonlt_placebos, eu_nonlt_ticks, [-15.65, 15.0]),
    (korea_total_treated, korea_total_placebos, korea_total_ticks, [-4.49, 8.5]),
    (korea_lt_treated, korea_lt_placebos, korea_lt_ticks, [-4.33, 4.9]),
    (korea_nonlt_treated, korea_nonlt_placebos, korea_nonlt_ticks, [-4.48, 6.5]),
    (us_total_treated, us_total_placebos, us_total_ticks, [-10.05, 12.9]),
    (us_lt_treated, us_lt_placebos, us_lt_ticks, [-4.38, 6.42]),
    (us_nonlt_treated, us_nonlt_placebos, us_nonlt_ticks, [-10.5, 8.85]),
]

def fmt_tick(v):
    return ("\u2212" + str(-v)) if v < 0 else str(v)

fig = go.Figure()
layout = dict(
    width=W, height=H,
    margin=dict(l=0, r=0, t=0, b=0),
    paper_bgcolor=PANEL_BG,
    plot_bgcolor="white",
    showlegend=False,
    font=dict(family=FONT, size=19, color="black"),
)
annotations = []
shapes = []

# white strips above / between panels
shapes.append(dict(type="rect", xref="paper", yref="paper", x0=0, x1=1, y0=py(panel_px[0][0]), y1=1,
                   fillcolor="white", line=dict(width=0), layer="below"))
for i in range(2):
    shapes.append(dict(type="rect", xref="paper", yref="paper", x0=0, x1=1,
                       y0=py(panel_px[i + 1][0]), y1=py(panel_px[i][1]),
                       fillcolor="white", line=dict(width=0), layer="below"))

for k, (treated, placebos, ticks, yr) in enumerate(subplots):
    r, c = divmod(k, 3)
    idx = "" if k == 0 else str(k + 1)
    xa, ya = "x" + idx, "y" + idx
    x0p, x1p = fx(col_px[c][0]), fx(col_px[c][1])
    y0p, y1p = row_px[r]
    treat_year = panel_treat_years[r]

    for series in placebos:
        fig.add_trace(go.Scatter(x=years, y=series, mode="lines", xaxis=xa, yaxis=ya,
                                 line=dict(color=GRAY, width=1), hoverinfo="skip"))
    # zero reference line
    fig.add_trace(go.Scatter(x=x_range, y=[0, 0], mode="lines", xaxis=xa, yaxis=ya,
                             line=dict(color="black", width=2, dash="8px,5px"), hoverinfo="skip"))
    # treatment year line
    fig.add_trace(go.Scatter(x=[treat_year, treat_year], y=yr, mode="lines", xaxis=xa, yaxis=ya,
                             line=dict(color="black", width=2, dash="11px,4px"), hoverinfo="skip"))
    fig.add_trace(go.Scatter(x=years, y=treated, mode="lines", xaxis=xa, yaxis=ya,
                             line=dict(color=RED, width=5.5), hoverinfo="skip"))

    layout["xaxis" + idx] = dict(
        domain=[x0p / W, x1p / W], anchor=ya, range=x_range,
        tickvals=x_tick_years, ticktext=[str(v) for v in x_tick_years],
        ticks="outside", ticklen=5, tickcolor="black", tickwidth=1,
        showline=True, linecolor="black", linewidth=1, mirror=False,
        showgrid=False, zeroline=False, tickfont=dict(size=19, family=FONT, color="black"),
    )
    layout["yaxis" + idx] = dict(
        domain=[py(y1p), py(y0p)], anchor=xa, range=yr,
        tickvals=ticks, ticktext=[fmt_tick(v) for v in ticks], tickangle=-90,
        ticks="outside", ticklen=5, tickcolor="black", tickwidth=1,
        showline=True, linecolor="black", linewidth=1,
        showgrid=True, gridcolor=GRID, gridwidth=1.5, zeroline=False,
        tickfont=dict(size=19, family=FONT, color="black"),
    )
    # axis titles
    annotations.append(dict(text=y_titles[c], xref="paper", yref="paper",
                            x=fx(col_px[c][0] - 57) / W, y=py((y0p + y1p) / 2), textangle=-90,
                            xanchor="center", yanchor="middle", showarrow=False,
                            font=dict(size=24, family=FONT, color="black")))
    annotations.append(dict(text=x_title, xref="paper", yref="paper",
                            x=fx((col_px[c][0] + col_px[c][1]) / 2) / W, y=py(y1p + 56),
                            xanchor="center", yanchor="middle", showarrow=False,
                            font=dict(size=20, family=FONT, color="black")))

for r in range(3):
    annotations.append(dict(text=panel_titles[r], xref="paper", yref="paper",
                            x=fx(496) / W, y=py(title_cy[r] + 2), xanchor="center", yanchor="middle",
                            showarrow=False, font=dict(size=37, family=FONT, color=TITLE_COLOR)))

layout["annotations"] = annotations
layout["shapes"] = shapes
fig.update_layout(**layout)
fig.write_html("out.html")
